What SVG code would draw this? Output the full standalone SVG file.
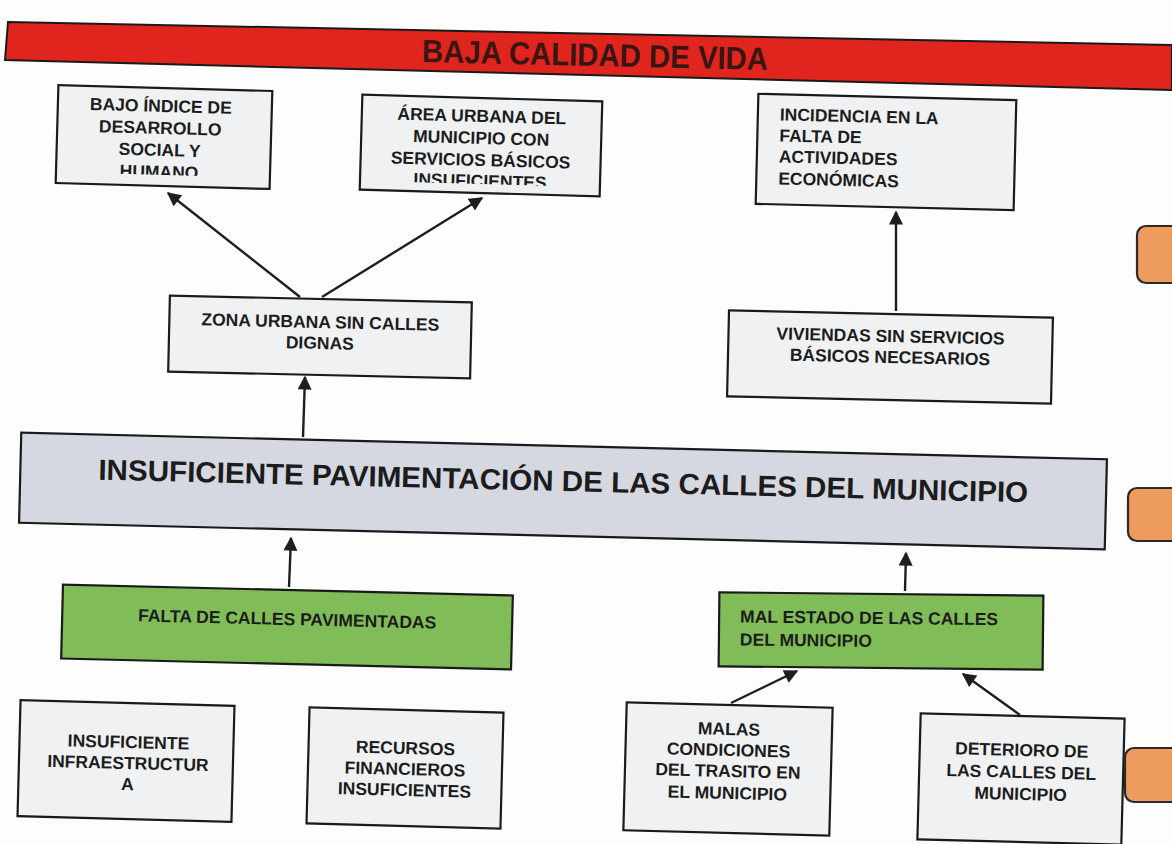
<svg xmlns="http://www.w3.org/2000/svg" width="1172" height="844" viewBox="0 0 1172 844">
<style>
.box{fill:#f0f1f3;stroke:#1a1a1a;stroke-width:2.2}
.main{fill:#d5d7e1;stroke:#1a1a1a;stroke-width:2.2}
.green{fill:#80bd58;stroke:#1a1a1a;stroke-width:2.2}
.tab{fill:#ee9b5e;stroke:#2a2a2a;stroke-width:2.2}
.t{font-family:"Liberation Sans",Arial,sans-serif;font-weight:bold;font-size:17.5px;fill:#1c1c1c}
.c{text-anchor:middle}
.conn{stroke:#1e1e1e;stroke-width:2.4;fill:none;marker-end:url(#ah)}
</style>
<defs>
<marker id="ah" viewBox="0 0 10 10" refX="9" refY="5" markerWidth="15" markerHeight="14" markerUnits="userSpaceOnUse" orient="auto">
<path d="M0,0 L10,5 L0,10 z" fill="#1e1e1e"/>
</marker>
<clipPath id="clipBajo"><rect x="-107" y="-49" width="214" height="87"/></clipPath>
<clipPath id="clipArea"><rect x="-120" y="-48" width="240" height="86"/></clipPath>
</defs>
<rect width="1172" height="844" fill="#fdfdfd"/>

<g id="banner">
<polygon points="8,22 1172,45 1172,90 5,60" fill="#e0251e" stroke="#1a1a1a" stroke-width="2"/>
<text x="595" y="66" class="t c" style="font-size:32px;fill:#3a1512" textLength="346" lengthAdjust="spacingAndGlyphs" transform="rotate(1.3 595 55)">BAJA CALIDAD DE VIDA</text>
</g>

<g id="bajo" transform="translate(164,137) rotate(1.6)">
<rect class="box" x="-107" y="-49" width="214" height="98"/>
<g clip-path="url(#clipBajo)">
<text class="t c" x="-4" y="-25">BAJO ÍNDICE DE</text>
<text class="t c" x="-4" y="-3">DESARROLLO</text>
<text class="t c" x="-4" y="19">SOCIAL Y</text>
<text class="t c" x="-4" y="41">HUMANO</text>
</g>
</g>

<g id="area" transform="translate(481,146) rotate(1.6)">
<rect class="box" x="-120" y="-48" width="240" height="95"/>
<g clip-path="url(#clipArea)">
<text class="t c" x="0" y="-24">ÁREA URBANA DEL</text>
<text class="t c" x="0" y="-2">MUNICIPIO CON</text>
<text class="t c" x="0" y="20">SERVICIOS BÁSICOS</text>
<text class="t c" x="0" y="41">INSUFICIENTES</text>
</g>
</g>

<g id="incidencia" transform="translate(886,152) rotate(1.4)">
<rect class="box" x="-129" y="-55" width="258" height="110"/>
<text class="t" x="-107" y="-29">INCIDENCIA EN LA</text>
<text class="t" x="-107" y="-8">FALTA DE</text>
<text class="t" x="-107" y="13">ACTIVIDADES</text>
<text class="t" x="-107" y="35">ECONÓMICAS</text>
</g>

<g id="zona" transform="translate(320,337) rotate(1.3)">
<rect class="box" x="-151" y="-38" width="302" height="76"/>
<text class="t c" x="0" y="-9">ZONA URBANA SIN CALLES</text>
<text class="t c" x="0" y="12">DIGNAS</text>
</g>

<g id="viviendas" transform="translate(890,357) rotate(1.3)">
<rect class="box" x="-162" y="-43" width="324" height="86"/>
<text class="t c" x="0" y="-15">VIVIENDAS SIN SERVICIOS</text>
<text class="t c" x="0" y="6">BÁSICOS NECESARIOS</text>
</g>

<g id="main" transform="translate(563,491) rotate(1.4)">
<rect class="main" x="-543" y="-45" width="1086" height="90"/>
<text class="t c" x="0" y="0" style="font-size:29px" textLength="930" lengthAdjust="spacingAndGlyphs">INSUFICIENTE PAVIMENTACIÓN DE LAS CALLES DEL MUNICIPIO</text>
</g>

<g id="falta" transform="translate(287,627) rotate(1.4)">
<rect class="green" x="-225" y="-37" width="450" height="74"/>
<text class="t c" x="0" y="-2">FALTA DE CALLES PAVIMENTADAS</text>
</g>

<g id="malestado" transform="translate(881,631) rotate(0.6)">
<rect class="green" x="-162" y="-37" width="324" height="74"/>
<text class="t" x="-141" y="-7">MAL ESTADO DE LAS CALLES</text>
<text class="t" x="-141" y="16">DEL MUNICIPIO</text>
</g>

<g id="infra" transform="translate(126,761) rotate(1.5)">
<rect class="box" x="-107" y="-58" width="214" height="116"/>
<text class="t c" x="2" y="-13">INSUFICIENTE</text>
<text class="t c" x="2" y="8">INFRAESTRUCTUR</text>
<text class="t c" x="2" y="29">A</text>
</g>

<g id="recursos" transform="translate(405,768) rotate(1.5)">
<rect class="box" x="-97" y="-58" width="194" height="116"/>
<text class="t c" x="0" y="-14">RECURSOS</text>
<text class="t c" x="0" y="7">FINANCIEROS</text>
<text class="t c" x="0" y="28">INSUFICIENTES</text>
</g>

<g id="malas" transform="translate(728,769) rotate(1.5)">
<rect class="box" x="-103" y="-64" width="206" height="128"/>
<text class="t c" x="0" y="-34">MALAS</text>
<text class="t c" x="0" y="-13">CONDICIONES</text>
<text class="t c" x="0" y="8">DEL TRASITO EN</text>
<text class="t c" x="0" y="30">EL MUNICIPIO</text>
</g>

<g id="deterioro" transform="translate(1021,779) rotate(1.5)">
<rect class="box" x="-102" y="-63" width="204" height="126"/>
<text class="t c" x="0" y="-23">DETERIORO DE</text>
<text class="t c" x="0" y="-1">LAS CALLES DEL</text>
<text class="t c" x="0" y="21">MUNICIPIO</text>
</g>

<g id="tabs">
<rect class="tab" x="1137" y="226" width="50" height="57" rx="9"/>
<rect class="tab" x="1128" y="488" width="60" height="53" rx="9"/>
<rect class="tab" x="1125" y="748" width="60" height="54" rx="9"/>
</g>

<g id="connectors">
<line class="conn" x1="300" y1="297" x2="168" y2="193"/>
<line class="conn" x1="322" y1="297" x2="482" y2="198"/>
<line class="conn" x1="896" y1="311" x2="896" y2="212"/>
<line class="conn" x1="303" y1="437" x2="305" y2="377"/>
<line class="conn" x1="289" y1="587" x2="291" y2="538"/>
<line class="conn" x1="905" y1="591" x2="906" y2="553"/>
<line class="conn" x1="731" y1="703" x2="797" y2="671"/>
<line class="conn" x1="1020" y1="715" x2="963" y2="674"/>
</g>
</svg>
